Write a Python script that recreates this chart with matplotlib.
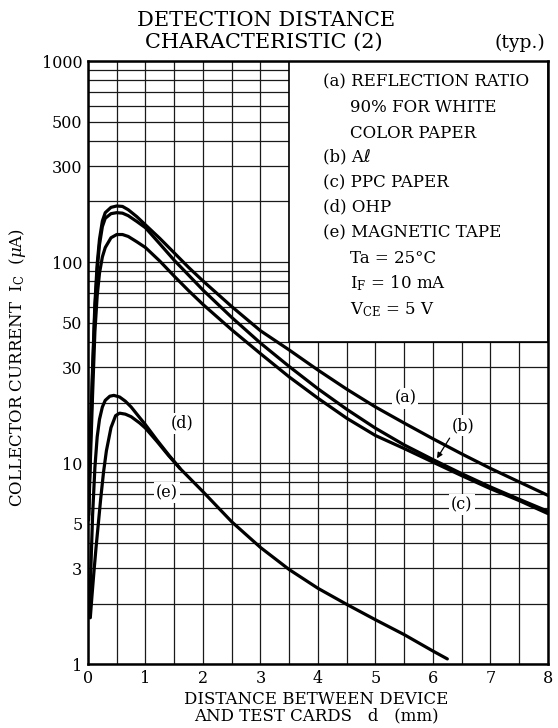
import numpy as np
import matplotlib
matplotlib.use("Agg")
import matplotlib.pyplot as plt
from matplotlib.patches import Rectangle
from matplotlib.ticker import FixedLocator, NullFormatter

plt.rcParams.update({
    "font.family": ["DejaVu Serif", "DejaVu Sans"], "mathtext.fontset": "dejavuserif",
    "font.size": 11,
})

# curves: d in mm, Ic in uA
abc_x = [0.01, 0.04, 0.08, 0.12, 0.16, 0.2, 0.25, 0.3, 0.4, 0.5, 0.6, 0.7, 0.85, 1.0,
         1.25, 1.5, 1.75, 2.0, 2.5, 3.0, 3.5, 4.0, 4.5, 5.0, 5.5, 6.0, 6.5, 7.0, 7.5, 8.0]
a_y = [5.5, 13, 30, 62, 98, 130, 160, 176, 187, 190, 189, 182, 168, 153,
       131, 111, 94, 80.5, 60, 45.5, 36.5, 29, 23.3, 19, 15.8, 13.2, 11.1, 9.4, 8.05, 6.9]
b_y = [5.5, 12, 28, 58, 92, 122, 150, 165, 174, 176, 175, 170, 159, 148,
       123, 102, 86, 72.5, 53, 39.5, 30.2, 23.4, 18.5, 14.9, 12.3, 10.4, 8.85, 7.6, 6.6, 5.75]
c_y = [5.2, 10, 22, 45, 68, 88, 106, 118, 132, 137, 137, 134, 126, 118,
       101, 85, 72, 61.5, 46, 35, 26.8, 21, 16.7, 13.7, 11.8, 10.1, 8.65, 7.45, 6.5, 5.6]
d_x = [0.03, 0.05, 0.08, 0.12, 0.16, 0.2, 0.25, 0.3, 0.38, 0.45, 0.55, 0.65, 0.75,
       0.9, 1.0, 1.2, 1.4, 1.6]
d_y = [1.7, 3.0, 5.5, 9.5, 13.5, 16.5, 19, 20.5, 21.5, 21.7, 21.3, 20.3, 19,
       16.8, 15.5, 13, 11, 9.4]
e_x = [0.04, 0.07, 0.1, 0.14, 0.18, 0.22, 0.27, 0.32, 0.4, 0.48, 0.55, 0.65, 0.75,
       0.9, 1.0, 1.2, 1.4, 1.6, 2.0, 2.5, 3.0, 3.5, 4.0, 4.5, 5.0, 5.5, 6.0, 6.25]
e_y = [1.7, 2.2, 2.8, 3.8, 5.0, 6.6, 9.0, 11.5, 15, 17.2, 17.7, 17.5, 17,
       15.8, 14.9, 12.8, 10.9, 9.4, 7.2, 5.1, 3.8, 2.95, 2.38, 1.98, 1.66, 1.4, 1.16, 1.06]

yticks = [1, 3, 5, 10, 30, 50, 100, 300, 500, 1000]
xticks = [0, 1, 2, 3, 4, 5, 6, 7, 8]

fig = plt.figure(figsize=(5.58, 7.28), dpi=100)
ax = fig.add_axes([0.1577, 0.0879, 0.8243, 0.8283])
ax.set_yscale("log")
ax.set_xlim(0, 8)
ax.set_ylim(1, 1000)

ax.set_xticks(xticks)
ax.xaxis.set_minor_locator(FixedLocator(np.arange(0.5, 8, 1.0)))
ax.set_yticks(yticks)
ax.set_yticklabels([str(v) for v in yticks])
minors = [m * 10**k for k in range(3) for m in range(2, 10)]
ax.yaxis.set_minor_locator(FixedLocator(minors))
ax.yaxis.set_minor_formatter(NullFormatter())
ax.tick_params(which="both", length=0, labelsize=11.5)
ax.tick_params(axis="y", pad=4)
ax.tick_params(axis="x", pad=4)
ax.set_axisbelow(True)
ax.grid(which="both", color="#1a1a1a", lw=0.9)
for s in ax.spines.values():
    s.set_linewidth(1.8)

# conditions box hides the grid in the upper right
ax.add_patch(Rectangle((3.5, 40), 4.5, 960, facecolor="white", edgecolor="black",
                       lw=1.2, zorder=2))

kw = dict(color="black", lw=2.3, zorder=4, solid_capstyle="round",
          solid_joinstyle="round")
ax.plot(abc_x, a_y, **kw)
ax.plot(abc_x, b_y, **kw)
ax.plot(abc_x, c_y, **kw)
ax.plot(d_x, d_y, **kw)
ax.plot(e_x, e_y, **kw)

lab = dict(ha="center", va="center", fontsize=11.5, zorder=3,
           bbox=dict(facecolor="white", edgecolor="none", pad=1.5))
ax.text(5.52, 21, "(a)", **lab)
ax.text(6.52, 15.3, "(b)", **lab)
ax.text(6.5, 6.2, "(c)", **lab)
ax.text(1.64, 15.8, "(d)", **lab)
ax.text(1.37, 7.1, "(e)", **lab)
ax.annotate("", xy=(6.07, 10.55), xytext=(6.29, 13.3), zorder=5,
            arrowprops=dict(arrowstyle="-|>", color="black", lw=0.9,
                            mutation_scale=8, shrinkA=0, shrinkB=0))

# condition text, positions in figure pixels
W, H = 558.0, 728.0
lines = [
    (323, 82, "(a) REFLECTION RATIO"),
    (350, 107, "90% FOR WHITE"),
    (350, 133, "COLOR PAPER"),
    (323, 157, "(b) A\u2113"),
    (323, 183, "(c) PPC PAPER"),
    (323, 207, "(d) OHP"),
    (323, 233, "(e) MAGNETIC TAPE"),
    (350, 258, "Ta = 25\u00b0C"),
    (350, 283, r"I$_\mathrm{F}$ = 10 mA"),
    (350, 310, r"V$_\mathrm{CE}$ = 5 V"),
]
for px, py, s in lines:
    fig.text(px / W, 1 - py / H, s, ha="left", va="center", fontsize=12, zorder=6)

fig.text(266 / W, 1 - 21 / H, "DETECTION DISTANCE", ha="center", va="center",
         fontsize=15)
fig.text(264 / W, 1 - 42 / H, "CHARACTERISTIC (2)", ha="center", va="center",
         fontsize=15)
fig.text(545 / W, 1 - 43 / H, "(typ.)", ha="right", va="center", fontsize=13.5)

fig.text(18 / W, 1 - 368 / H, r"COLLECTOR CURRENT  I$_\mathrm{C}$  ($\mu$A)",
         rotation=90, ha="center", va="center", fontsize=12)
fig.text(316 / W, 1 - 699 / H, "DISTANCE BETWEEN DEVICE", ha="center", va="center",
         fontsize=12)
fig.text(316 / W, 1 - 716 / H, "AND TEST CARDS   d   (mm)", ha="center", va="center",
         fontsize=12)

fig.savefig("out.png", dpi=100)
